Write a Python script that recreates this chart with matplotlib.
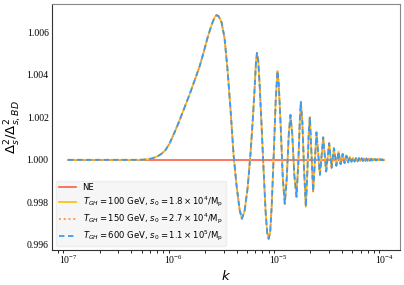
import matplotlib
matplotlib.use("Agg")
import matplotlib.pyplot as plt

# k values and ratio Delta_s^2 / Delta_{s,BD}^2
k_vals = [
    1.0e-7, 1.97e-7, 3.81e-7, 4.74e-7, 5.66e-7, 6.31e-7, 7.04e-7, 7.69e-7,
    8.39e-7, 9.16e-7, 1.022e-6, 1.141e-6, 1.273e-6, 1.421e-6, 1.585e-6,
    1.769e-6, 1.931e-6, 2.108e-6, 2.301e-6, 2.458e-6, 2.568e-6, 2.683e-6,
    2.865e-6, 3.06e-6, 3.268e-6, 3.491e-6, 3.728e-6, 3.981e-6, 4.252e-6,
    4.472e-6, 4.746e-6, 5.069e-6, 5.412e-6, 5.655e-6, 5.908e-6,
    6.079e-6, 6.214e-6, 6.380e-6, 6.592e-6, 6.887e-6, 7.194e-6, 7.516e-6,
    7.770e-6, 8.030e-6, 8.30e-6, 8.577e-6, 8.962e-6, 9.363e-6, 9.719e-6,
    1.0e-5, 1.045e-5, 1.092e-5, 1.141e-5, 1.192e-5, 1.245e-5, 1.292e-5,
    1.345e-5, 1.405e-5, 1.474e-5, 1.533e-5, 1.585e-5, 1.620e-5, 1.674e-5,
    1.742e-5, 1.808e-5, 1.868e-5, 1.931e-5, 1.973e-5,
    2.12e-5, 2.28e-5, 2.46e-5, 2.64e-5, 2.82e-5, 3.01e-5, 3.17e-5, 3.34e-5,
    3.52e-5, 3.69e-5, 3.86e-5, 4.04e-5, 4.21e-5, 4.38e-5, 4.55e-5, 4.72e-5,
    4.90e-5, 5.07e-5, 5.245e-5, 5.42e-5, 5.595e-5, 5.77e-5, 5.945e-5, 6.12e-5,
    6.295e-5, 6.47e-5, 6.645e-5, 6.82e-5, 6.995e-5, 7.17e-5, 7.345e-5, 7.52e-5,
    7.695e-5, 7.87e-5, 8.045e-5, 8.22e-5, 8.395e-5, 8.57e-5, 8.745e-5, 8.92e-5,
    9.095e-5, 9.27e-5, 9.445e-5, 9.62e-5, 9.795e-5, 1.0e-4,
]
ratio = [
    1.0, 1.0, 1.0, 1.0, 1.00002, 1.00007, 1.00016, 1.00028,
    1.00045, 1.00075, 1.00127, 1.00184, 1.00245, 1.00306, 1.00372,
    1.00438, 1.00504, 1.00574, 1.00635, 1.00671, 1.00682, 1.00678,
    1.00649, 1.00574, 1.00424, 1.00235, 1.00024, 0.99878, 0.99765,
    0.99722, 0.99760, 0.99868, 1.00038, 1.00179, 1.00339,
    1.00461, 1.00504, 1.00471, 1.00353, 1.00151, 0.99944, 0.99751,
    0.99656, 0.99628, 0.99661, 0.99784, 1.00024, 1.00282, 1.00419,
    1.00358, 1.00151, 0.99915, 0.99793, 0.99915, 1.00122, 1.00212,
    1.00118, 0.99929, 0.99826, 0.99986, 1.00188, 1.00273, 1.00179,
    0.99944, 0.99779, 0.99944, 1.00141, 1.00202,
    0.99851, 1.00130, 0.99929, 1.00106, 0.99945, 1.00079, 0.99962, 1.00055,
    0.99972, 1.00039, 0.99980, 1.00028, 0.99985, 1.00020, 0.99988, 1.00014,
    0.99991, 1.00010, 0.99992, 1.00009, 0.99993, 1.00008, 0.99994, 1.00007,
    0.99995, 1.00006, 0.99995, 1.00006, 0.99996, 1.00005, 0.99996, 1.00005,
    0.99997, 1.00004, 0.99997, 1.00004, 0.99997, 1.00003, 0.99998, 1.00003,
    0.99998, 1.00003, 0.99998, 1.00002, 0.99998, 1.0,
]
ne_k = [1.0e-7, 1.0e-4]
ne_ratio = [1.0, 1.0]

labels = [
    "NE",
    r"$T_{GH} = 100$ GeV, $s_0 = 1.8\times10^4/\mathrm{M_p}$",
    r"$T_{GH} = 150$ GeV, $s_0 = 2.7\times10^4/\mathrm{M_p}$",
    r"$T_{GH} = 600$ GeV, $s_0 = 1.1\times10^5/\mathrm{M_p}$",
]
yticks = [0.996, 0.998, 1.000, 1.002, 1.004, 1.006]

fig = plt.figure(figsize=(4.04, 2.85), dpi=100)
ax = fig.add_axes([0.129, 0.123, 0.861, 0.863])

ax.plot(ne_k, ne_ratio, color="#fb6a55", lw=1.3, label=labels[0])
ax.plot(k_vals, ratio, color="#f7c21b", lw=1.3, label=labels[1])
ax.plot(k_vals, ratio, color="#ff8c3a", lw=1.3, ls=":", label=labels[2])
ax.plot(k_vals, ratio, color="#3d9bf0", lw=1.3, ls=(0, (3, 2)), label=labels[3])

ax.set_xscale("log")
ax.set_yticks(yticks)
ax.set_yticklabels([f"{t:.3f}" for t in yticks])
ax.tick_params(length=0, pad=2.5, labelsize=7, labelfontfamily="Liberation Serif")

for side in ["left", "bottom"]:
    ax.spines[side].set_color("#333333")
for side in ["top", "right"]:
    ax.spines[side].set_color("#888888")

ax.set_xlabel(r"$k$", fontsize=9.5, labelpad=2)
ax.set_ylabel(r"$\Delta_s^2/\Delta_{s,BD}^2$", fontsize=9.5, labelpad=2)

leg = ax.legend(loc="lower left", fontsize=6.1, facecolor="#f6f6f6",
                edgecolor="#eeeeee", framealpha=1.0, handlelength=2.0,
                labelspacing=0.3, borderpad=0.3)

fig.savefig("out.png", dpi=100)
